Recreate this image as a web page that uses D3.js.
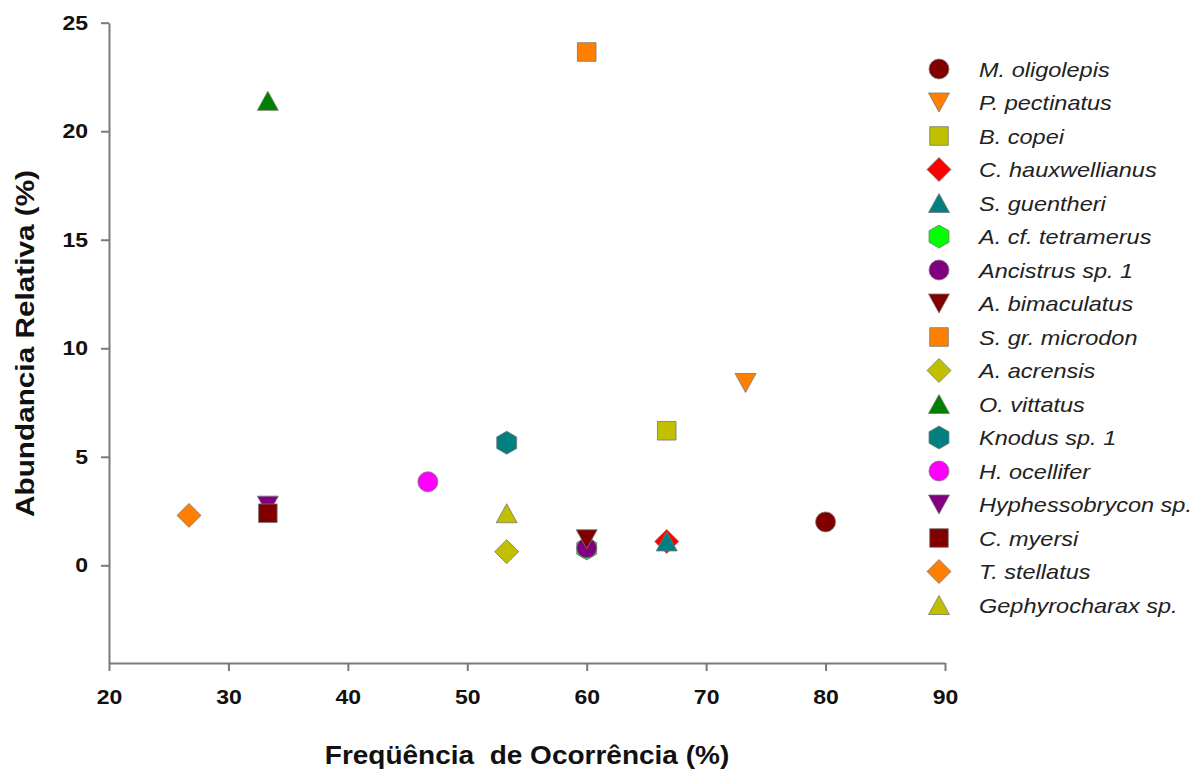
<!DOCTYPE html>
<html>
<head>
<meta charset="utf-8">
<script src="https://cdnjs.cloudflare.com/ajax/libs/d3/7.8.5/d3.min.js"></script>
<style>
  body { margin: 0; background: #fff; }
  svg { display: block; font-family: "Liberation Sans", Arial, sans-serif; }
</style>
</head>
<body>
<script>
"use strict";

(function(){

  window.addEventListener("load", init);

  // legend order = drawing order
  const species = ["M. oligolepis", "P. pectinatus", "B. copei", "C. hauxwellianus",
    "S. guentheri", "A. cf. tetramerus", "Ancistrus sp. 1", "A. bimaculatus",
    "S. gr. microdon", "A. acrensis", "O. vittatus", "Knodus sp. 1", "H. ocellifer",
    "Hyphessobrycon sp.", "C. myersi", "T. stellatus", "Gephyrocharax sp."];

  // Freqüência de Ocorrência (%)
  const freq = [80, 73.3, 66.7, 66.7, 66.7, 60, 60, 60, 60, 53.3, 33.3, 53.3, 46.7,
    33.3, 33.3, 26.7, 53.3];

  // Abundancia Relativa (%)
  const abund = [2.0, 8.4, 6.2, 1.1, 1.1, 0.78, 0.8, 1.2, 23.65, 0.63, 21.4, 5.65, 3.85,
    2.75, 2.4, 2.3, 2.4];

  const colors = ["#800000", "#ff8000", "#c0c000", "#ff0000", "#008080", "#00ff00",
    "#800080", "#800000", "#ff8000", "#c0c000", "#008000", "#008080", "#ff00ff",
    "#800080", "#800000", "#ff8000", "#c0c000"];

  const shapes = ["circle", "triangleDown", "square", "diamond", "triangle", "hexagon",
    "circle", "triangleDown", "square", "diamond", "triangle", "hexagon",
    "circle", "triangleDown", "square", "diamond", "triangle"];

  const xTicks = [20, 30, 40, 50, 60, 70, 80, 90];
  const yTicks = [0, 5, 10, 15, 20, 25];

  const measurements = {
    width: 1204,
    height: 772,
    left: 109,
    right: 945,
    top: 22.7,
    bottom: 663
  }

  // marker geometry (half extents, px)
  const markerTypes = {
    circle: { draw(ctx) { ctx.moveTo(10, 0); ctx.arc(0, 0, 10, 0, 2 * Math.PI); } },
    square: { draw(ctx) { ctx.rect(-9.3, -9.3, 18.6, 18.6); } },
    diamond: { draw(ctx) {
      ctx.moveTo(0, -12); ctx.lineTo(12, 0); ctx.lineTo(0, 12); ctx.lineTo(-12, 0); ctx.closePath();
    } },
    triangle: { draw(ctx) {
      ctx.moveTo(0, -9.5); ctx.lineTo(10.5, 9.5); ctx.lineTo(-10.5, 9.5); ctx.closePath();
    } },
    triangleDown: { draw(ctx) {
      ctx.moveTo(0, 9.5); ctx.lineTo(10.5, -9.5); ctx.lineTo(-10.5, -9.5); ctx.closePath();
    } },
    hexagon: { draw(ctx) {
      for (let k = 0; k < 6; k++) {
        let a = Math.PI / 3 * k - Math.PI / 2;
        let px = 11.5 * Math.cos(a), py = 11.5 * Math.sin(a);
        if (k === 0) ctx.moveTo(px, py); else ctx.lineTo(px, py);
      }
      ctx.closePath();
    } }
  }

  let svgContainer = ""

  function init() {
    svgContainer = d3.select("body").append("svg")
      .attr("width", measurements.width)
      .attr("height", measurements.height);

    svgContainer.append("rect")
      .attr("width", measurements.width)
      .attr("height", measurements.height)
      .attr("fill", "#fff");

    let scaleX = d3.scaleLinear()
      .domain([20, 90])
      .range([measurements.left, measurements.right]);

    let scaleY = d3.scaleLinear()
      .domain([-4.5, 25])
      .range([measurements.bottom, measurements.top]);

    drawAxes(scaleX, scaleY);
    plotData(scaleX, scaleY);
    drawLegend();
  }

  function drawAxes(scaleX, scaleY) {
    let xAxis = d3.axisBottom(scaleX)
      .tickValues(xTicks)
      .tickSize(8)
      .tickSizeOuter(0)
      .tickPadding(19);

    let yAxis = d3.axisLeft(scaleY)
      .tickValues(yTicks)
      .tickSize(8)
      .tickSizeOuter(0)
      .tickPadding(13);

    let gx = svgContainer.append("g")
      .attr("transform", "translate(0," + measurements.bottom + ")")
      .call(xAxis);

    let gy = svgContainer.append("g")
      .attr("transform", "translate(" + measurements.left + ",0)")
      .call(yAxis);

    [gx, gy].forEach(function(g) {
      g.selectAll("path, line")
        .attr("stroke", "#7a7a7a")
        .attr("stroke-width", 2);
      g.selectAll("text")
        .attr("fill", "#111")
        .style("font-size", "20px")
        .style("font-weight", "bold");
    });

    // labels are drawn a little wide
    gx.selectAll("text").attr("transform", "scale(1.15,1)");
    gy.selectAll("text")
      .attr("x", -21 / 1.15)
      .attr("transform", "scale(1.15,1)");

    svgContainer.append("text")
      .attr("transform", "translate(527,764) scale(1.12,1)")
      .attr("text-anchor", "middle")
      .attr("fill", "#111")
      .style("font-size", "25px")
      .style("font-weight", "bold")
      .style("white-space", "pre")
      .text("Freqüência  de Ocorrência (%)");

    svgContainer.append("text")
      .attr("transform", "translate(34,343.5) rotate(-90) scale(1.19,1)")
      .attr("text-anchor", "middle")
      .attr("fill", "#111")
      .style("font-size", "25px")
      .style("font-weight", "bold")
      .text("Abundancia Relativa (%)");
  }

  function plotData(scaleX, scaleY) {
    svgContainer.selectAll(".point")
      .data(species)
      .enter()
      .append("path")
        .attr("class", "point")
        .attr("transform", function(d, i) {
          return "translate(" + scaleX(freq[i]) + "," + scaleY(abund[i]) + ")";
        })
        .attr("d", function(d, i) { return d3.symbol().type(markerTypes[shapes[i]])(); })
        .attr("fill", function(d, i) { return colors[i]; })
        .attr("stroke", "#777")
        .attr("stroke-width", 0.8);
  }

  function drawLegend() {
    let rows = svgContainer.selectAll(".legend")
      .data(species)
      .enter()
      .append("g")
        .attr("class", "legend")
        .attr("transform", function(d, i) {
          return "translate(939," + (69 + i * 33.5) + ")";
        });

    rows.append("path")
      .attr("d", function(d, i) { return d3.symbol().type(markerTypes[shapes[i]])(); })
      .attr("fill", function(d, i) { return colors[i]; })
      .attr("stroke", "#777")
      .attr("stroke-width", 0.8);

    rows.append("text")
      .attr("transform", "translate(40,0) scale(1.12,1)")
      .attr("dy", "0.36em")
      .attr("fill", "#222")
      .style("font-size", "21px")
      .style("font-style", "italic")
      .text(function(d) { return d; });
  }

})()
</script>
</body>
</html>
